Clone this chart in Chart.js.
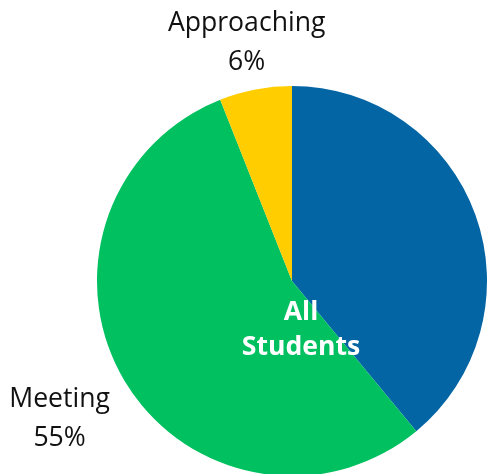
<!DOCTYPE html>
<html>
<head>
<meta charset="utf-8">
<script src="https://cdn.jsdelivr.net/npm/chart.js@4/dist/chart.umd.min.js"></script>
<style>
  html, body { margin: 0; padding: 0; background: #fff; overflow: hidden; }
  canvas { display: block; }
</style>
</head>
<body>
<canvas id="pie" width="500" height="490"></canvas>
<script>
// Доли по уровням (сумма 100%)
const categories = ["Exceeding", "Meeting", "Approaching"];
const shares     = [39, 55, 6];
const colors     = ["#0465a5", "#00c060", "#ffcd00"];

// подписи: на каких долях показывать и как далеко от края круга
const showLabel  = [false, true, true];
const labelGap   = [60, 75, 47];

const centerText = ["All", "Students"];

const labelsPlugin = {
  id: "sliceLabels",
  afterDatasetsDraw(chart) {
    const ctx = chart.ctx;
    const arcs = chart.getDatasetMeta(0).data;
    ctx.save();
    ctx.textAlign = "center";
    ctx.textBaseline = "middle";

    // подписи снаружи круга
    ctx.font = "26.6px 'Open Sans'";
    ctx.fillStyle = "#111";
    arcs.forEach((arc, i) => {
      if (!showLabel[i]) return;
      const p = arc.getProps(["x", "y", "startAngle", "endAngle", "outerRadius"], true);
      const mid = (p.startAngle + p.endAngle) / 2;
      const d = p.outerRadius + labelGap[i];
      const cx = p.x + Math.cos(mid) * d;
      const cy = p.y + Math.sin(mid) * d;
      ctx.fillText(categories[i], cx, cy - 19.5);
      ctx.fillText(shares[i] + "%", cx, cy + 19.5);
    });

    // надпись в середине
    const c = arcs[0].getProps(["x", "y"], true);
    ctx.font = "bold 26.6px 'Open Sans'";
    ctx.fillStyle = "#fff";
    ctx.fillText(centerText[0], c.x + 9, c.y + 31);
    ctx.fillText(centerText[1], c.x + 9, c.y + 66);
    ctx.restore();
  }
};

new Chart(document.getElementById("pie"), {
  type: "pie",
  data: {
    labels: categories,
    datasets: [{
      data: shares,
      backgroundColor: colors,
      borderWidth: 0
    }]
  },
  options: {
    responsive: false,
    animation: false,
    layout: { padding: { left: 97, top: 86, right: 13, bottom: 14 } },
    plugins: {
      legend: { display: false },
      tooltip: { enabled: false }
    }
  },
  plugins: [labelsPlugin]
});
</script>
</body>
</html>
